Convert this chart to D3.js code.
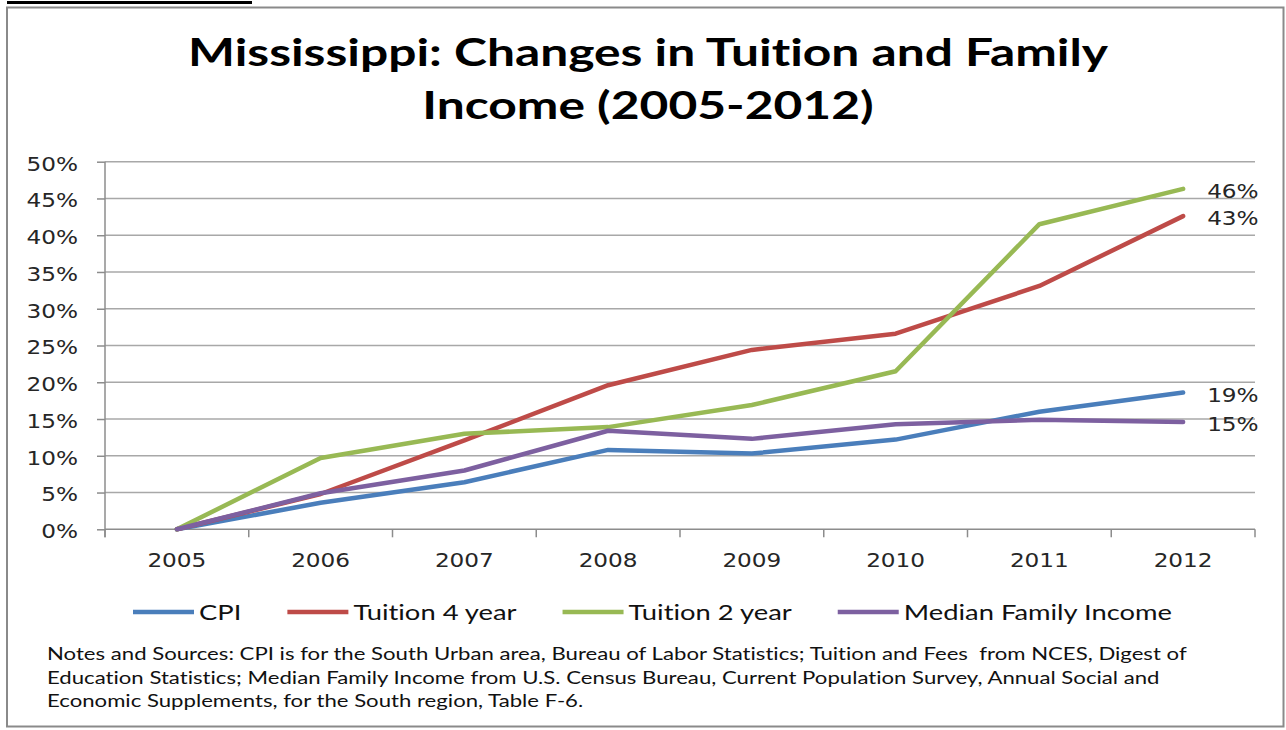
<!DOCTYPE html>
<html>
<head>
<meta charset="utf-8">
<script src="https://cdn.jsdelivr.net/npm/d3@7"></script>
<style>
  html, body { margin: 0; padding: 0; background: #fff; }
  svg { display: block; }
  text { font-variant-ligatures: none; font-feature-settings: "liga" 0, "clig" 0; }
</style>
</head>
<body>
<svg id="chart" width="1286" height="730"></svg>
<script>
// ---- data ----
const years = ["2005", "2006", "2007", "2008", "2009", "2010", "2011", "2012"];
const cpi = [0, 3.6, 6.4, 10.8, 10.3, 12.2, 16.0, 18.6];
const tuition4 = [0, 4.8, 12.1, 19.6, 24.4, 26.6, 33.1, 42.6];
const tuition2 = [0, 9.7, 13.0, 13.9, 16.9, 21.5, 41.5, 46.3];
const income = [0, 4.9, 8.0, 13.4, 12.3, 14.3, 14.9, 14.6];
const seriesNames = ["CPI", "Tuition 4 year", "Tuition 2 year", "Median Family Income"];
const seriesColors = ["#4a7ebb", "#be4b48", "#98b954", "#7d60a0"];
const yTicks = [0, 5, 10, 15, 20, 25, 30, 35, 40, 45, 50];
const titleLines = ["Mississippi: Changes in Tuition and Family", "Income (2005-2012)"];
const noteLines = [
  "Notes and Sources: CPI is for the South Urban area, Bureau of Labor Statistics; Tuition and Fees  from NCES, Digest of",
  "Education Statistics; Median Family Income from U.S. Census Bureau, Current Population Survey, Annual Social and",
  "Economic Supplements, for the South region, Table F-6."
];

const series = [cpi, tuition4, tuition2, income].map((vals, i) => ({
  name: seriesNames[i], color: seriesColors[i],
  values: vals.map((v, j) => ({ year: years[j], value: v }))
}));

const svg = d3.select("#chart");
const tickFont = "'DejaVu Sans', Verdana, sans-serif";
const textFont = "Lato, 'Open Sans', sans-serif";

// horizontal widening of text to a given factor
function widen(sel, k) {
  sel.each(function () {
    const w = this.getComputedTextLength();
    this.setAttribute("textLength", w * k);
    this.setAttribute("lengthAdjust", "spacingAndGlyphs");
  });
}
function naturalWidth(str, font, size, weight) {
  const t = svg.append("text").attr("font-family", font).attr("font-size", size)
    .attr("font-weight", weight || "normal").text(str);
  const w = t.node().getComputedTextLength();
  t.remove();
  return w;
}

// ---- frame ----
svg.append("rect").attr("width", 1286).attr("height", 730).attr("fill", "#fff");
svg.append("line").attr("x1", 7).attr("x2", 252).attr("y1", 2.5).attr("y2", 2.5)
  .attr("stroke", "#000").attr("stroke-width", 3);
svg.append("rect").attr("x", 7).attr("y", 7.5).attr("width", 1276.5).attr("height", 719)
  .attr("fill", "#fff").attr("stroke", "#8a8a8a").attr("stroke-width", 2);

// ---- scales ----
const plot = { left: 105, right: 1255, top: 161.7, bottom: 529.3 };
const x = d3.scaleBand().domain(years).range([plot.left, plot.right]).paddingInner(0).paddingOuter(0);
const xc = d => x(d) + x.bandwidth() / 2;
const y = d3.scaleLinear().domain([0, 50]).range([plot.bottom, plot.top]);

const axisColor = "#8c8c8c";
const gridColor = "#a8a8a8";

// gridlines
svg.append("g").selectAll("line").data(yTicks.filter(d => d > 0)).join("line")
  .attr("x1", plot.left).attr("x2", plot.right)
  .attr("y1", d => y(d)).attr("y2", d => y(d))
  .attr("stroke", gridColor).attr("stroke-width", 1.5);

// y axis
const tickK = 59 / naturalWidth("2005", tickFont, 20);
const yAxis = svg.append("g").attr("transform", `translate(${plot.left},0)`)
  .call(d3.axisLeft(y).tickValues(yTicks).tickFormat(d => d + "%").tickSize(8).tickPadding(19).tickSizeOuter(0));
yAxis.select(".domain").remove();
yAxis.append("line").attr("x1", 0).attr("x2", 0).attr("y1", plot.top).attr("y2", plot.bottom + 8)
  .attr("stroke", axisColor).attr("stroke-width", 1.5);
yAxis.selectAll(".tick line").attr("stroke", axisColor).attr("stroke-width", 1.5);
yAxis.selectAll(".tick text").attr("font-family", tickFont).attr("font-size", 20)
  .attr("fill", "#262626").attr("dy", "0.42em").call(widen, tickK);

// x axis
const xAxis = svg.append("g").attr("transform", `translate(0,${plot.bottom})`)
  .call(d3.axisBottom(x).tickSize(0).tickPadding(24));
xAxis.select(".domain").remove();
xAxis.append("line").attr("x1", plot.left).attr("x2", plot.right).attr("y1", 0).attr("y2", 0)
  .attr("stroke", axisColor).attr("stroke-width", 1.5);
xAxis.selectAll(".boundary").data(d3.range(years.length + 1)).join("line")
  .attr("class", "boundary")
  .attr("x1", i => plot.left + i * x.bandwidth()).attr("x2", i => plot.left + i * x.bandwidth())
  .attr("y1", 0).attr("y2", 8).attr("stroke", axisColor).attr("stroke-width", 1.5);
xAxis.selectAll(".tick text").attr("font-family", tickFont).attr("font-size", 20)
  .attr("fill", "#262626").call(widen, tickK);

// ---- series lines ----
const line = d3.line().x(d => xc(d.year)).y(d => y(d.value));
svg.append("g").selectAll("path").data(series).join("path")
  .attr("d", s => line(s.values))
  .attr("fill", "none").attr("stroke", s => s.color).attr("stroke-width", 4.5)
  .attr("stroke-linejoin", "round").attr("stroke-linecap", "round");

// end-of-line value labels
svg.append("g").selectAll("text").data(series).join("text")
  .attr("x", s => xc(s.values[s.values.length - 1].year) + 24)
  .attr("y", s => y(s.values[s.values.length - 1].value) + 2)
  .attr("dy", "0.36em")
  .attr("font-family", tickFont).attr("font-size", 20).attr("fill", "#262626")
  .text(s => d3.format(".0f")(s.values[s.values.length - 1].value) + "%")
  .call(widen, tickK);

// ---- title ----
const titleK = 920 / naturalWidth(titleLines[0], textFont, 38, "bold");
svg.append("g").selectAll("text").data(titleLines).join("text")
  .attr("x", 648).attr("y", (d, i) => 66 + i * 53)
  .attr("text-anchor", "middle")
  .attr("font-family", textFont).attr("font-size", 38).attr("font-weight", "bold").attr("fill", "#000")
  .text(d => d)
  .call(widen, titleK);

// ---- legend ----
const legFont = 22;
const natural = seriesNames.map(n => naturalWidth(n, textFont, legFont));
const lineLen = 61, gapText = 5, gapItem = 46;
const legK = (1172 - 133 - 4 * lineLen - 4 * gapText - 3 * gapItem) / d3.sum(natural);
let cursor = 133;
const legendPos = series.map((s, i) => {
  const p = { x: cursor, w: natural[i] * legK };
  cursor += lineLen + gapText + p.w + gapItem;
  return p;
});
const legend = svg.append("g").selectAll("g").data(series).join("g")
  .attr("transform", (s, i) => `translate(${legendPos[i].x},612)`);
legend.append("line").attr("x1", 0).attr("x2", lineLen).attr("y1", 0).attr("y2", 0)
  .attr("stroke", s => s.color).attr("stroke-width", 4.5);
legend.append("text").attr("x", lineLen + gapText).attr("y", 8)
  .attr("font-family", textFont).attr("font-size", legFont).attr("fill", "#111")
  .text(s => s.name)
  .attr("textLength", (s, i) => legendPos[i].w).attr("lengthAdjust", "spacingAndGlyphs");

// ---- notes ----
const noteK = 1134 / naturalWidth(noteLines[0], textFont, 18);
svg.append("g").selectAll("text").data(noteLines).join("text")
  .attr("x", 47).attr("y", (d, i) => 660 + i * 23.5)
  .attr("font-family", textFont).attr("font-size", 18).attr("fill", "#111")
  .attr("xml:space", "preserve").style("white-space", "pre")
  .text(d => d)
  .call(widen, noteK);
</script>
</body>
</html>
